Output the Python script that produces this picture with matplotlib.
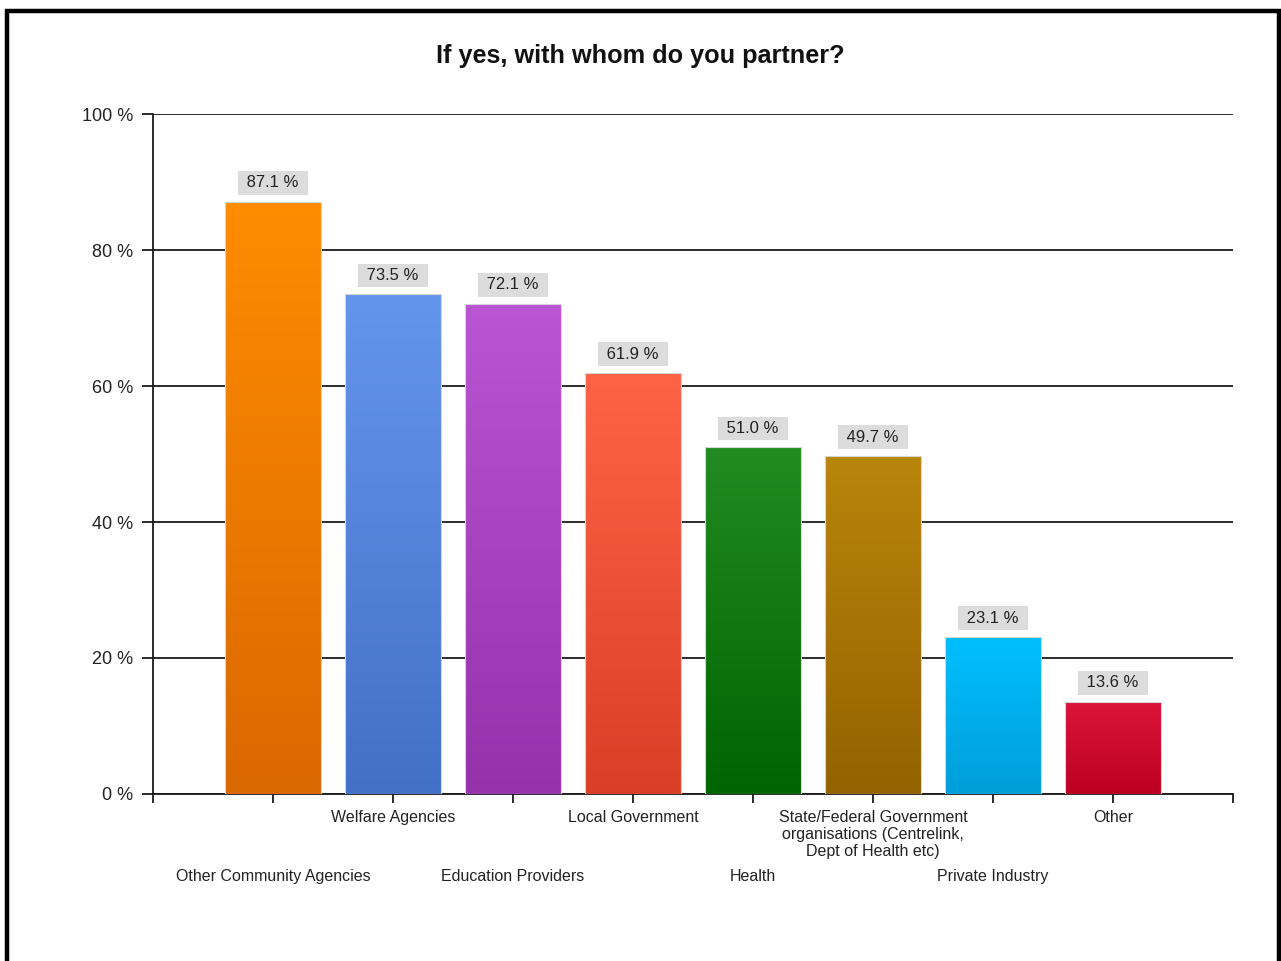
import numpy as np
import matplotlib
matplotlib.use("Agg")
import matplotlib.pyplot as plt
from matplotlib.colors import LinearSegmentedColormap
from matplotlib.transforms import ScaledTranslation
from matplotlib.lines import Line2D

plt.rcParams['font.family'] = ['Liberation Sans', 'DejaVu Sans']

title = "If yes, with whom do you partner?"
categories = [
    "Other Community Agencies",
    "Welfare Agencies",
    "Education Providers",
    "Local Government",
    "Health",
    "State/Federal Government\norganisations (Centrelink,\nDept of Health etc)",
    "Private Industry",
    "Other",
]
values = [87.1, 73.5, 72.1, 61.9, 51.0, 49.7, 23.1, 13.6]

# gradient end colours per bar (top, bottom)
top_colors = ['#FF8C00', '#6495ED', '#BA55D3', '#FF6347',
              '#228B22', '#B8860B', '#00BFFF', '#DC143C']
bottom_colors = ['#DA6800', '#4270C6', '#9631AC', '#DA3E26',
                 '#006400', '#946200', '#009ED9', '#BC0022']

W, H = 1281, 961
fig = plt.figure(figsize=(W / 100, H / 100), dpi=100)
ax = fig.add_axes([153 / W, 1 - 794 / H, (1233 - 153) / W, (794 - 114) / H])

x = np.arange(1, len(values) + 1)
bars = ax.bar(x, values, width=0.8, facecolor='none', edgecolor='#D5D5D5',
              linewidth=0.8, zorder=4)

# vertical gradient fill, clipped to each bar
grad = np.linspace(0, 1, 256).reshape(-1, 1)
for patch, c_top, c_bot in zip(bars.patches, top_colors, bottom_colors):
    cmap = LinearSegmentedColormap.from_list('g', [c_bot, c_top])
    x0, y0 = patch.get_x(), patch.get_y()
    im = ax.imshow(grad, cmap=cmap, origin='lower', aspect='auto',
                   extent=(x0, x0 + patch.get_width(), y0, y0 + patch.get_height()),
                   zorder=3, interpolation='bicubic')
    im.set_clip_path(patch)

for xi, v in zip(x, values):
    ax.annotate(f" {v:.1f} % ", xy=(xi, v), xytext=(0, 13.5), textcoords='offset points',
                ha='center', va='center', fontsize=12, color='#222222',
                bbox=dict(boxstyle='square,pad=0.26', fc='#DCDCDC', ec='none'),
                zorder=5)

ax.set_xlim(0, 9)
ax.set_ylim(0, 100)
ax.set_yticks([0, 20, 40, 60, 80, 100])
ax.set_yticklabels([f"{t} %" for t in [0, 20, 40, 60, 80, 100]], fontsize=13, color='#222222')
ax.set_xticks(np.arange(0, 10))
ax.set_xticklabels([''] + categories + [''], fontsize=11.5, color='#222222',
                   linespacing=1.15)

ax.yaxis.grid(True, color='#1A1A1A', linewidth=1.3)
ax.set_axisbelow(True)
ax.tick_params(axis='y', length=8, width=1.3, pad=6, color='#1A1A1A')
ax.tick_params(axis='x', length=6.5, width=1.3, pad=5, color='#1A1A1A')
for side in ['top', 'right']:
    ax.spines[side].set_visible(False)
for side in ['left', 'bottom']:
    ax.spines[side].set_linewidth(1.3)
    ax.spines[side].set_color('#1A1A1A')

# alternate labels drop to a second row
shift = ScaledTranslation(0, -0.59, fig.dpi_scale_trans)
for i, lab in enumerate(ax.get_xticklabels()):
    if i in (1, 3, 5, 7):
        lab.set_transform(lab.get_transform() + shift)

fig.text(0.5, 1 - 56 / H, title, ha='center', va='center',
         fontsize=18.2, fontweight='bold', color='#111111')

# frame round the chart
frame = [(7 / W, 0), (7 / W, 1 - 11 / H), (1279 / W, 1 - 11 / H), (1279 / W, 0)]
fig.add_artist(Line2D([p[0] for p in frame], [p[1] for p in frame],
                      transform=fig.transFigure, color='black', linewidth=3.2,
                      solid_joinstyle='miter'))

fig.savefig("out.png", dpi=100)
